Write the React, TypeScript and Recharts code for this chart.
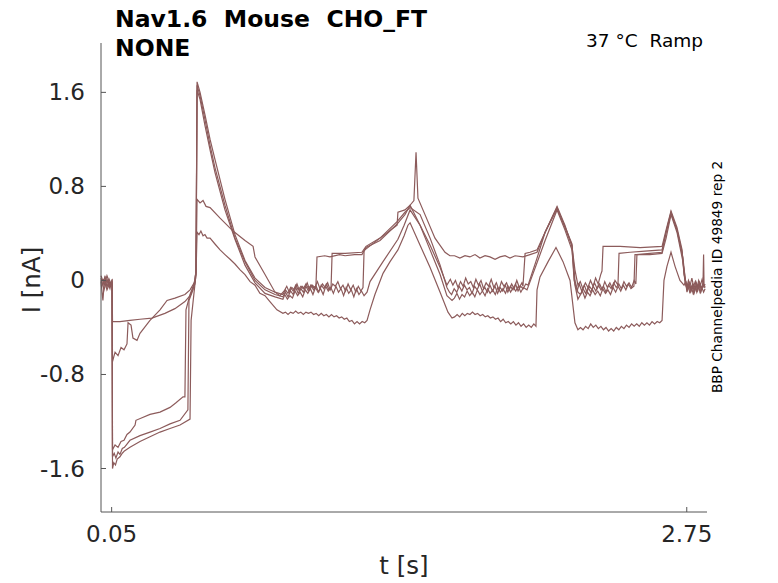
import React from 'react'
import { LineChart, Line, XAxis, YAxis } from 'recharts'

// five sweeps of the ramp protocol, [t (s), I (nA)]
const trace1 = [
  [0, 0.0], [0.009, -0.04], [0.019, 0.04], [0.028, -0.06], [0.038, 0.01], [0.047, -0.03], [0.052, -0.01],
  [0.054, -0.35], [0.089, -0.35], [0.136, -0.34], [0.183, -0.33], [0.239, -0.32], [0.3, -0.28], [0.347, -0.24],
  [0.394, -0.18], [0.418, -0.13], [0.441, -0.03], [0.446, 0.05],
  [0.451, 0.41], [0.46, 0.39], [0.469, 0.42], [0.479, 0.38], [0.488, 0.39], [0.498, 0.36], [0.512, 0.36],
  [0.535, 0.31], [0.559, 0.26], [0.582, 0.22], [0.606, 0.18], [0.629, 0.14], [0.653, 0.09], [0.676, 0.05],
  [0.7, -0.01], [0.723, -0.04], [0.746, -0.11], [0.77, -0.13], [0.793, -0.18], [0.826, -0.25], [0.854, -0.28],
  [0.866, -0.27], [0.878, -0.29], [0.89, -0.27], [0.902, -0.28], [0.914, -0.26], [0.926, -0.28], [0.938, -0.27],
  [0.95, -0.29], [0.962, -0.27], [0.974, -0.28], [0.986, -0.27], [0.998, -0.29], [1.01, -0.28], [1.022, -0.3],
  [1.034, -0.28], [1.046, -0.3], [1.058, -0.29], [1.07, -0.31], [1.082, -0.29], [1.094, -0.31], [1.106, -0.3],
  [1.118, -0.32], [1.13, -0.31], [1.142, -0.33], [1.154, -0.32], [1.166, -0.35], [1.178, -0.34], [1.19, -0.37],
  [1.202, -0.35], [1.214, -0.37], [1.226, -0.35], [1.238, -0.36], [1.249, -0.34],
  [1.263, -0.25], [1.286, -0.12], [1.324, 0.06], [1.357, 0.16], [1.394, 0.26], [1.423, 0.38], [1.441, 0.47], [1.451, 0.49],
  [1.498, 0.3], [1.545, 0.11], [1.592, -0.1], [1.629, -0.27], [1.648, -0.32],
  [1.66, -0.31], [1.672, -0.29], [1.684, -0.31], [1.696, -0.28], [1.708, -0.3], [1.72, -0.28], [1.732, -0.29],
  [1.744, -0.27], [1.756, -0.29], [1.768, -0.28], [1.78, -0.3], [1.792, -0.29], [1.804, -0.31], [1.816, -0.3],
  [1.828, -0.32], [1.84, -0.31], [1.852, -0.33], [1.864, -0.32], [1.876, -0.35], [1.888, -0.33], [1.9, -0.36],
  [1.912, -0.35], [1.924, -0.37], [1.936, -0.35], [1.948, -0.38], [1.96, -0.36], [1.972, -0.39], [1.984, -0.37],
  [1.996, -0.4], [2.008, -0.38], [2.02, -0.4], [2.032, -0.37], [2.042, -0.39],
  [2.047, -0.08], [2.061, 0.03], [2.099, 0.16], [2.136, 0.28], [2.169, 0.16], [2.202, 0.0], [2.225, -0.36], [2.239, -0.42],
  [2.251, -0.4], [2.263, -0.42], [2.275, -0.39], [2.287, -0.41], [2.299, -0.37], [2.311, -0.4], [2.323, -0.38],
  [2.335, -0.41], [2.347, -0.39], [2.359, -0.42], [2.371, -0.4], [2.383, -0.43], [2.395, -0.41], [2.407, -0.43],
  [2.419, -0.4], [2.431, -0.42], [2.443, -0.39], [2.455, -0.41], [2.467, -0.38], [2.479, -0.4], [2.491, -0.37],
  [2.503, -0.39], [2.515, -0.37], [2.527, -0.39], [2.539, -0.36], [2.551, -0.38], [2.563, -0.36], [2.575, -0.38],
  [2.587, -0.35], [2.599, -0.37], [2.611, -0.35], [2.623, -0.36], [2.634, -0.34],
  [2.643, 0.0], [2.657, 0.12], [2.676, 0.24], [2.695, 0.12], [2.718, 0.0], [2.737, -0.04], [2.745, -0.01],
  [2.753, -0.06], [2.761, -0.02], [2.769, -0.07], [2.777, -0.03], [2.785, -0.06], [2.793, -0.01], [2.801, -0.05],
  [2.809, -0.02], [2.817, -0.07], [2.825, -0.03], [2.831, -0.05],
]

const trace2 = [
  [0, 0.02], [0.014, -0.08], [0.028, 0.01], [0.042, -0.05], [0.052, -0.01],
  [0.054, -0.69], [0.066, -0.61], [0.08, -0.64], [0.094, -0.57], [0.108, -0.59], [0.122, -0.54], [0.127, -0.36],
  [0.141, -0.38], [0.15, -0.49], [0.169, -0.51], [0.183, -0.45], [0.23, -0.34], [0.277, -0.25], [0.31, -0.17],
  [0.347, -0.15], [0.394, -0.12], [0.418, -0.08], [0.441, -0.01], [0.446, 0.09],
  [0.451, 0.69], [0.465, 0.66], [0.479, 0.68], [0.493, 0.63], [0.512, 0.62], [0.559, 0.53], [0.62, 0.42],
  [0.676, 0.34], [0.714, 0.29], [0.723, 0.2], [0.77, 0.05], [0.817, -0.1], [0.84, -0.13],
  [0.86, -0.09], [0.872, -0.05], [0.884, -0.1], [0.896, -0.06], [0.908, -0.08], [0.92, -0.03], [0.932, -0.09],
  [0.944, -0.05], [0.956, -0.07], [0.968, -0.02], [0.98, -0.08], [0.992, -0.04], [1.004, -0.06], [1.016, -0.01],
  [1.028, -0.07], [1.04, -0.03], [1.052, -0.06], [1.064, -0.02], [1.076, -0.08], [1.088, -0.03], [1.1, -0.05],
  [1.112, -0.01], [1.124, -0.07], [1.136, -0.04], [1.148, -0.09], [1.16, -0.03], [1.172, -0.08], [1.184, -0.04],
  [1.196, -0.1], [1.208, -0.05], [1.22, -0.09], [1.23, -0.06],
  [1.235, 0.25], [1.239, 0.26], [1.31, 0.36], [1.39, 0.47], [1.394, 0.58], [1.427, 0.6], [1.451, 0.64],
  [1.498, 0.47], [1.545, 0.3], [1.592, 0.11], [1.624, -0.04],
  [1.64, 0.01], [1.652, -0.04], [1.664, 0.0], [1.676, -0.06], [1.688, -0.01], [1.7, -0.05], [1.712, 0.02],
  [1.724, -0.03], [1.736, -0.01], [1.748, -0.06], [1.76, 0.01], [1.772, -0.04], [1.784, 0.0], [1.796, -0.07],
  [1.808, -0.02], [1.82, -0.05], [1.832, 0.01], [1.844, -0.06], [1.856, -0.02], [1.868, -0.08], [1.88, -0.01],
  [1.892, -0.05], [1.904, -0.02], [1.916, -0.08], [1.928, -0.03], [1.94, -0.07], [1.952, 0.0], [1.964, -0.06],
  [1.976, -0.02], [1.981, -0.05],
  [1.991, 0.23], [2.014, 0.24], [2.047, 0.26], [2.085, 0.41], [2.141, 0.62], [2.178, 0.45], [2.211, 0.3],
  [2.221, 0.0], [2.235, -0.09],
  [2.245, -0.03], [2.257, -0.09], [2.269, -0.04], [2.281, -0.1], [2.293, -0.05], [2.305, -0.08], [2.317, -0.02],
  [2.329, -0.07], [2.341, -0.03], [2.353, -0.08], [2.365, -0.01], [2.377, -0.06], [2.389, -0.02], [2.401, -0.07],
  [2.413, 0.0], [2.427, -0.04],
  [2.432, 0.23], [2.484, 0.24], [2.554, 0.25], [2.634, 0.26], [2.653, 0.41], [2.676, 0.58], [2.704, 0.43],
  [2.728, 0.24], [2.742, -0.02], [2.75, -0.06], [2.758, 0.0], [2.766, -0.04], [2.774, 0.02], [2.782, -0.05],
  [2.79, -0.01], [2.798, -0.07], [2.806, 0.0], [2.814, -0.04], [2.822, 0.01], [2.83, -0.05], [2.836, -0.03],
]

const trace3 = [
  [0, -0.01], [0.009, -0.17], [0.014, -0.05], [0.028, 0.04], [0.042, -0.03], [0.052, 0.0],
  [0.054, -1.44], [0.066, -1.4], [0.08, -1.42], [0.094, -1.37], [0.108, -1.36], [0.122, -1.31], [0.136, -1.29],
  [0.16, -1.23], [0.164, -1.19], [0.23, -1.14], [0.277, -1.12], [0.324, -1.08], [0.352, -1.04], [0.385, -0.99],
  [0.394, -0.99], [0.399, -0.25], [0.418, -0.12], [0.441, -0.01], [0.446, 0.09],
  [0.451, 1.69], [0.465, 1.6], [0.488, 1.41], [0.512, 1.2], [0.535, 1.03], [0.582, 0.69], [0.629, 0.39],
  [0.676, 0.17], [0.723, 0.02], [0.77, -0.06], [0.817, -0.1], [0.854, -0.12],
  [0.866, -0.08], [0.878, -0.11], [0.89, -0.06], [0.902, -0.09], [0.914, -0.04], [0.926, -0.08], [0.938, -0.05],
  [0.95, -0.07], [0.962, -0.03], [0.974, -0.07], [0.986, -0.04], [0.998, -0.06], [1.009, -0.05],
  [1.014, 0.2], [1.05, 0.21], [1.075, 0.2], [1.12, 0.22], [1.146, 0.21], [1.19, 0.22], [1.225, 0.22], [1.244, 0.28],
  [1.31, 0.34], [1.39, 0.48], [1.427, 0.56], [1.451, 0.64], [1.469, 0.68], [1.479, 1.09], [1.488, 0.7], [1.521, 0.56],
  [1.568, 0.36], [1.615, 0.24], [1.638, 0.21],
  [1.66, 0.21], [1.685, 0.19], [1.709, 0.21], [1.732, 0.2], [1.756, 0.22], [1.779, 0.19], [1.803, 0.21],
  [1.826, 0.2], [1.85, 0.18], [1.873, 0.2], [1.897, 0.21], [1.92, 0.19], [1.944, 0.21], [1.981, 0.2],
  [2.014, 0.22], [2.047, 0.24], [2.085, 0.41], [2.141, 0.63], [2.178, 0.47], [2.211, 0.29], [2.225, 0.09], [2.239, -0.04],
  [2.25, -0.01], [2.262, -0.07], [2.274, -0.02], [2.286, -0.06], [2.298, 0.0], [2.31, -0.05], [2.322, 0.02],
  [2.334, -0.03], [2.346, 0.05], [2.352, 0.08],
  [2.357, 0.29], [2.437, 0.29], [2.531, 0.28], [2.634, 0.29], [2.653, 0.43], [2.676, 0.59], [2.704, 0.45],
  [2.728, 0.26], [2.737, 0.05], [2.746, -0.01], [2.754, -0.08], [2.762, -0.03], [2.77, -0.09], [2.778, -0.04],
  [2.786, -0.1], [2.794, -0.03], [2.802, -0.08], [2.81, -0.02], [2.818, -0.07], [2.826, -0.05], [2.829, 0.22],
  [2.831, -0.03], [2.836, -0.06],
]

const trace4 = [
  [0, 0.04], [0.014, -0.03], [0.028, 0.0], [0.042, -0.07], [0.052, 0.01],
  [0.054, -1.5], [0.062, -1.47], [0.07, -1.51], [0.08, -1.46], [0.089, -1.48], [0.1, -1.43], [0.11, -1.42],
  [0.136, -1.36], [0.183, -1.32], [0.23, -1.29], [0.277, -1.26], [0.324, -1.22], [0.371, -1.19], [0.408, -1.1],
  [0.413, -0.17], [0.432, -0.08], [0.446, 0.07],
  [0.451, 1.66], [0.465, 1.57], [0.488, 1.37], [0.512, 1.15], [0.535, 0.96], [0.582, 0.64], [0.629, 0.36],
  [0.676, 0.16], [0.723, 0.0], [0.77, -0.08], [0.817, -0.12], [0.854, -0.14],
  [0.866, -0.1], [0.878, -0.14], [0.89, -0.09], [0.902, -0.12], [0.914, -0.06], [0.926, -0.11], [0.938, -0.07],
  [0.95, -0.1], [0.962, -0.05], [0.974, -0.09], [0.986, -0.04], [0.998, -0.08], [1.01, -0.05], [1.022, -0.1],
  [1.034, -0.04], [1.046, -0.07], [1.058, -0.03], [1.07, -0.08], [1.08, -0.06],
  [1.085, 0.23], [1.146, 0.23], [1.225, 0.24], [1.244, 0.29], [1.31, 0.36], [1.39, 0.5], [1.427, 0.58],
  [1.451, 0.62], [1.498, 0.56], [1.545, 0.36], [1.592, 0.13], [1.624, -0.06],
  [1.636, -0.1], [1.646, -0.12], [1.658, -0.07], [1.67, -0.1], [1.682, -0.05], [1.694, -0.09], [1.706, -0.04],
  [1.718, -0.08], [1.73, -0.06], [1.742, -0.11], [1.754, -0.05], [1.766, -0.08], [1.778, -0.03], [1.79, -0.09],
  [1.802, -0.06], [1.814, -0.1], [1.826, -0.04], [1.838, -0.09], [1.85, -0.05], [1.862, -0.11], [1.874, -0.06],
  [1.886, -0.09], [1.898, -0.04], [1.91, -0.1], [1.922, -0.05], [1.934, -0.08], [1.946, -0.03], [1.958, -0.09],
  [1.97, -0.05], [1.982, -0.07], [1.994, -0.03], [2.005, -0.04],
  [2.047, 0.19], [2.085, 0.41], [2.141, 0.61], [2.178, 0.46], [2.211, 0.31], [2.225, 0.0], [2.239, -0.1],
  [2.251, -0.12], [2.263, -0.07], [2.275, -0.11], [2.287, -0.06], [2.299, -0.1], [2.311, -0.05], [2.323, -0.09],
  [2.335, -0.04], [2.347, -0.08], [2.359, -0.05], [2.371, -0.1], [2.383, -0.04], [2.395, -0.07], [2.407, -0.02],
  [2.419, -0.06], [2.431, -0.03], [2.443, -0.07], [2.455, -0.01], [2.467, -0.05], [2.479, -0.02], [2.491, -0.06],
  [2.503, 0.0], [2.511, -0.03],
  [2.516, 0.22], [2.577, 0.23], [2.634, 0.24], [2.653, 0.41], [2.676, 0.57], [2.704, 0.43], [2.732, 0.19],
  [2.746, -0.04], [2.753, -0.09], [2.76, -0.03], [2.768, -0.1], [2.776, -0.05], [2.784, -0.11], [2.792, -0.06],
  [2.8, -0.09], [2.808, -0.04], [2.816, -0.1], [2.824, -0.05], [2.836, -0.06],
]

const trace5 = [
  [0, 0.0], [0.014, 0.01], [0.028, -0.08], [0.042, -0.02], [0.052, -0.04],
  [0.054, -1.6], [0.06, -1.55], [0.068, -1.57], [0.076, -1.52], [0.089, -1.5], [0.1, -1.47], [0.11, -1.45],
  [0.136, -1.42], [0.183, -1.37], [0.23, -1.33], [0.277, -1.29], [0.324, -1.26], [0.371, -1.23], [0.418, -1.18],
  [0.423, -0.34], [0.437, -0.1], [0.446, 0.05],
  [0.451, 1.62], [0.465, 1.54], [0.488, 1.32], [0.512, 1.11], [0.535, 0.92], [0.582, 0.6], [0.629, 0.35],
  [0.676, 0.13], [0.723, -0.02], [0.77, -0.11], [0.817, -0.14], [0.854, -0.16],
  [0.863, -0.12], [0.875, -0.16], [0.887, -0.13], [0.899, -0.15], [0.911, -0.09], [0.923, -0.13], [0.935, -0.1],
  [0.947, -0.14], [0.959, -0.08], [0.971, -0.11], [0.983, -0.07], [0.995, -0.12], [1.007, -0.06], [1.019, -0.1],
  [1.031, -0.07], [1.043, -0.12], [1.055, -0.05], [1.067, -0.09], [1.079, -0.06], [1.091, -0.11], [1.103, -0.05],
  [1.115, -0.1], [1.127, -0.07], [1.139, -0.13], [1.151, -0.06], [1.163, -0.11], [1.175, -0.08], [1.187, -0.14],
  [1.199, -0.07], [1.211, -0.12], [1.223, -0.09], [1.235, -0.13], [1.249, -0.1],
  [1.263, -0.01], [1.324, 0.16], [1.394, 0.35], [1.423, 0.47], [1.451, 0.6], [1.498, 0.47],
  [1.545, 0.26], [1.592, 0.05], [1.624, -0.13], [1.648, -0.17],
  [1.659, -0.15], [1.671, -0.11], [1.683, -0.16], [1.695, -0.12], [1.707, -0.14], [1.719, -0.09], [1.731, -0.13],
  [1.743, -0.1], [1.755, -0.14], [1.767, -0.08], [1.779, -0.12], [1.791, -0.09], [1.803, -0.13], [1.815, -0.07],
  [1.827, -0.11], [1.839, -0.08], [1.851, -0.12], [1.863, -0.06], [1.875, -0.1], [1.887, -0.07], [1.899, -0.11],
  [1.911, -0.05], [1.923, -0.1], [1.935, -0.06], [1.947, -0.09], [1.959, -0.05], [1.971, -0.1], [1.983, -0.06],
  [2.0, -0.08],
  [2.047, 0.15], [2.085, 0.34], [2.141, 0.6], [2.178, 0.43], [2.211, 0.26], [2.225, -0.04], [2.239, -0.16],
  [2.248, -0.13], [2.26, -0.09], [2.272, -0.15], [2.284, -0.1], [2.296, -0.13], [2.308, -0.08], [2.32, -0.12],
  [2.332, -0.09], [2.344, -0.13], [2.356, -0.07], [2.368, -0.11], [2.38, -0.08], [2.392, -0.12], [2.404, -0.06],
  [2.416, -0.1], [2.428, -0.05], [2.44, -0.09], [2.452, -0.04], [2.464, -0.08], [2.476, -0.03], [2.488, -0.07],
  [2.502, -0.05],
  [2.507, 0.22], [2.577, 0.22], [2.634, 0.23], [2.653, 0.36], [2.676, 0.56], [2.704, 0.41], [2.732, 0.16],
  [2.751, -0.1], [2.757, -0.04], [2.765, -0.11], [2.773, -0.06], [2.781, -0.12], [2.789, -0.05], [2.797, -0.1],
  [2.805, -0.04], [2.813, -0.11], [2.821, -0.06], [2.829, -0.1], [2.836, -0.07],
]

const traces = [trace1, trace2, trace3, trace4, trace5]
const xTicks = [0.05, 2.75]
const yTicks = [-1.6, -0.8, 0, 0.8, 1.6]

const LINE_COLOR = '#8c5b5b'
const AXIS_COLOR = '#555555'
const TEXT_COLOR = '#262626'
const FONT = '"DejaVu Sans", sans-serif'

const toRows = (pts: number[][]) => pts.map(([t, i]) => ({ t, i }))

const YTick = (props: any) => {
  const { x, y, payload } = props
  return (
    <g>
      <line x1={x} x2={x + 5} y1={y} y2={y} stroke={AXIS_COLOR} />
      <text x={x - 16} y={y + 8} textAnchor="end" fontSize={23} fontFamily={FONT} fill={TEXT_COLOR}>
        {String(payload.value)}
      </text>
    </g>
  )
}

const XTick = (props: any) => {
  const { x, y, payload } = props
  return (
    <g>
      <line x1={x} x2={x} y1={y} y2={y - 5} stroke={AXIS_COLOR} />
      <text x={x} y={y + 30} textAnchor="middle" fontSize={23} fontFamily={FONT} fill={TEXT_COLOR}>
        {String(payload.value)}
      </text>
    </g>
  )
}

export default function App() {
  return (
    <div style={{ position: 'absolute', left: 0, top: 0, width: 778, height: 583, background: '#fff' }}>
      <LineChart width={778} height={583} margin={{ top: 43, right: 71, bottom: 41, left: 41 }}>
        <XAxis
          dataKey="t"
          type="number"
          domain={[0, 2.845]}
          ticks={xTicks}
          allowDuplicatedCategory={false}
          height={30}
          tickSize={0}
          tickMargin={0}
          tickLine={false}
          tick={XTick}
          stroke={AXIS_COLOR}
        />
        <YAxis
          type="number"
          domain={[-1.97, 2.02]}
          ticks={yTicks}
          width={60}
          tickSize={0}
          tickMargin={0}
          tickLine={false}
          tick={YTick}
          stroke={AXIS_COLOR}
        />
        {traces.map((tr, k) => (
          <Line
            key={k}
            data={toRows(tr)}
            dataKey="i"
            type="linear"
            stroke={LINE_COLOR}
            strokeWidth={1.2}
            dot={false}
            activeDot={false}
            isAnimationActive={false}
          />
        ))}
      </LineChart>
      <svg
        width={778}
        height={583}
        style={{ position: 'absolute', left: 0, top: 0, pointerEvents: 'none' }}
      >
        <text x={115} y={27} fontSize={23.5} fontWeight="bold" fontFamily={FONT} fill="#000" style={{ whiteSpace: 'pre' }}>
          {'Nav1.6  Mouse  CHO_FT'}
        </text>
        <text x={115} y={56} fontSize={23.5} fontWeight="bold" fontFamily={FONT} fill="#000">
          NONE
        </text>
        <text x={703} y={47} textAnchor="end" fontSize={18.5} fontFamily={FONT} fill="#000" style={{ whiteSpace: 'pre' }}>
          {'37 °C  Ramp'}
        </text>
        <text transform="translate(40,280) rotate(-90)" textAnchor="middle" fontSize={24.5} fontFamily={FONT} fill={TEXT_COLOR}>
          I [nA]
        </text>
        <text x={404} y={574} textAnchor="middle" fontSize={24.5} fontFamily={FONT} fill={TEXT_COLOR}>
          t [s]
        </text>
        <text transform="translate(722,277) rotate(-90)" textAnchor="middle" fontSize={13.7} fontFamily={FONT} fill="#000">
          BBP Channelpedia ID 49849 rep 2
        </text>
      </svg>
    </div>
  )
}
